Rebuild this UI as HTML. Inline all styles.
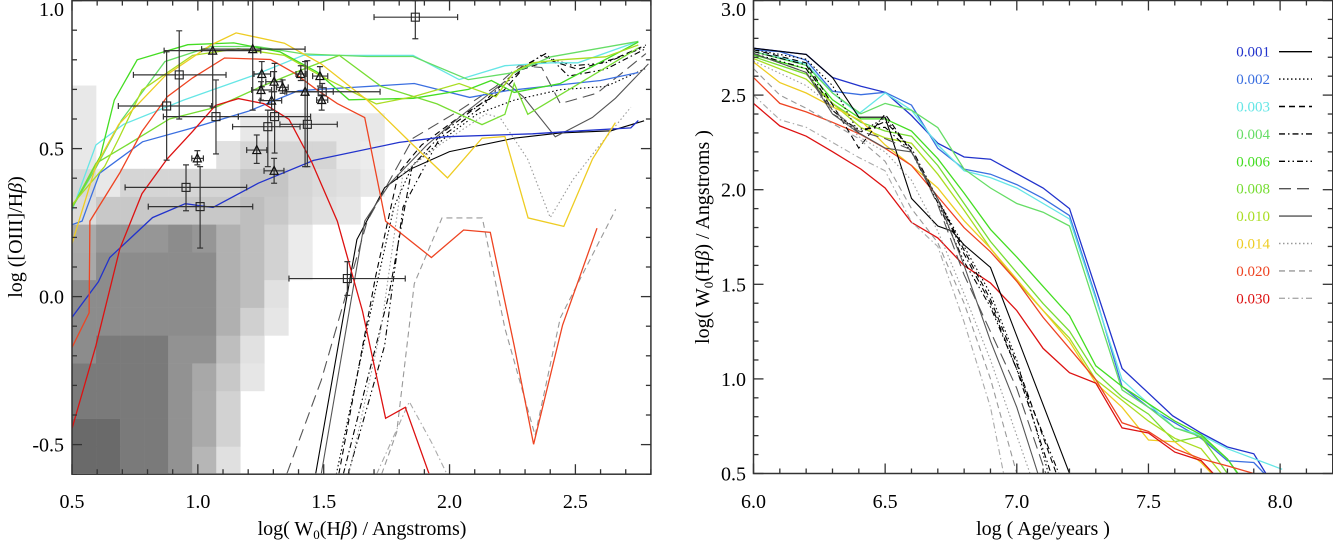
<!DOCTYPE html>
<html><head><meta charset="utf-8">
<style>
html,body{margin:0;padding:0;background:#fff;}
svg{display:block;font-family:"Liberation Serif",serif;}
</style></head>
<body>
<svg id="fig" width="1333" height="542" viewBox="0 0 1333 542" xmlns="http://www.w3.org/2000/svg">
<defs>
<clipPath id="clipL"><rect x="72" y="1" width="578.7" height="472.3"/></clipPath>
<clipPath id="clipR"><rect x="753.5" y="0.5" width="578.5" height="472.8"/></clipPath>
</defs>
<g id="left">
<g id="heat" clip-path="url(#clipL)"></g>
<g id="curvesL" clip-path="url(#clipL)"></g>
<g id="pointsL" clip-path="url(#clipL)"></g>
<g id="axesL"></g>
<text transform="translate(22,237) rotate(-90)" text-anchor="middle" font-size="20">log ([OIII]/H<tspan font-style="italic">β</tspan>)</text>
<text x="362" y="535" text-anchor="middle" font-size="20">log( W<tspan font-size="13" dy="4">0</tspan><tspan dy="-4">(H</tspan><tspan font-style="italic">β</tspan>) / Angstroms)</text>
</g>
<g id="right">
<g id="curvesR" clip-path="url(#clipR)"></g>
<g id="axesR"></g>
<g id="legend"></g>
<text transform="translate(709,237) rotate(-90)" text-anchor="middle" font-size="20">log( W<tspan font-size="13" dy="4">0</tspan><tspan dy="-4">(H</tspan><tspan font-style="italic">β</tspan>) / Angstroms )</text>
<text x="1043" y="535" text-anchor="middle" font-size="20">log ( Age/years )</text>
</g>
</svg>
<script>
// ---------- data ----------
const metallicities = ["0.001","0.002","0.003","0.004","0.006","0.008","0.010","0.014","0.020","0.030"];
const colors = ["#2233cc","#3b6fe0","#66e6e6","#66dd66","#44dd22","#77dd33","#aadd22","#eecc22","#ee4422","#dd1111"];
const kColors = ["#000","#000","#000","#000","#000","#555","#555","#999","#999","#aaa"];
const dashes = ["", "1.5,2.5", "6,4", "6,3,1.5,3", "6,3,1.5,3,1.5,3", "12,6", "", "1.5,2.5", "6,4", "6,3,1.5,3"];

// heatmap (rows from bottom, grey intensity per cell, 255 = empty)
const heatX0 = 0.5, heatDX = 0.0955, heatY0 = -0.6, heatDY = 0.0938;
const heatRows = [
[106,106,122,122,146,182,224,255,255,255,255,255,255],
[106,106,122,122,146,170,210,255,255,255,255,255,255],
[122,122,122,122,146,170,210,255,255,255,255,255,255],
[122,122,122,122,146,168,200,230,255,255,255,255,255],
[140,122,122,122,146,146,190,225,255,255,255,255,255],
[140,140,140,140,140,140,176,208,230,255,255,255,255],
[140,140,140,140,140,140,176,190,225,255,255,255,255],
[168,140,140,140,140,140,176,190,210,235,255,255,255],
[170,150,150,150,140,150,176,190,210,235,255,255,255],
[220,200,200,200,200,200,200,190,200,215,225,230,255],
[216,232,213,213,213,213,213,197,197,213,220,224,232],
[232,255,255,255,255,255,225,213,213,213,213,232,236],
[232,255,255,255,255,255,255,232,232,232,232,232,232],
[232,255,255,255,255,255,255,255,255,255,255,255,255]
];

// left panel coloured curves (index into metallicities)
const colCurvesLX = {
 0:[0.5,0.605,0.65,0.82,0.95,1.06,1.24,1.46,1.8,1.98,2.33,2.52,2.72,2.75],
 1:[0.5,0.54,0.56,0.61,0.78,0.98,1.2,1.4,1.64,1.86,2.08,2.23,2.41,2.6,2.75],
 2:[0.5,0.595,0.705,0.943,1.217,1.418,1.6,1.855,2.038,2.22,2.403,2.51,2.75],
 3:[0.5,0.595,0.696,0.869,1.052,1.235,1.418,1.673,1.855,2.074,2.257,2.403,2.75],
 4:[0.5,0.613,0.668,0.759,0.96,1.143,1.326,1.473,1.6,1.856,2.075,2.166,2.257,2.44,2.75],
 5:[0.5,0.595,0.714,0.887,1.071,1.253,1.436,1.562,1.728,1.95,2.129,2.22,2.257,2.311,2.75],
 6:[0.5,0.63,0.686,0.778,0.979,1.161,1.344,1.49,1.709,1.855,2.038,2.184,2.257,2.33,2.44,2.62,2.75],
 7:[0.5,0.595,0.686,0.869,1.052,1.152,1.344,1.49,1.673,1.855,1.992,2.129,2.22,2.312,2.454,2.568,2.659],
 8:[0.5,0.568,0.571,0.69,0.778,0.878,0.979,1.106,1.289,1.38,1.472,1.554,1.663,1.746,1.928,2.056,2.162,2.257,2.334,2.449,2.586],
 9:[0.5,0.595,0.69,0.778,0.878,0.979,1.07,1.161,1.262,1.362,1.453,1.554,1.654,1.746,1.824,1.919]
};
const colCurvesLY = {
 0:[-0.07,0.05,0.132,0.267,0.314,0.301,0.383,0.46,0.521,0.54,0.55,0.56,0.57,0.595],
 1:[0.243,0.255,0.302,0.417,0.523,0.57,0.626,0.696,0.708,0.72,0.673,0.696,0.713,0.73,0.757],
 2:[0.29,0.512,0.582,0.664,0.746,0.815,0.815,0.815,0.733,0.78,0.79,0.79,0.862],
 3:[0.3,0.435,0.595,0.794,0.845,0.845,0.82,0.811,0.811,0.733,0.757,0.81,0.862],
 4:[0.3,0.475,0.664,0.8,0.851,0.857,0.827,0.759,0.665,0.67,0.7,0.73,0.69,0.72,0.86],
 5:[0.3,0.45,0.51,0.6,0.64,0.71,0.774,0.815,0.71,0.651,0.581,0.616,0.72,0.616,0.84],
 6:[0.31,0.44,0.534,0.698,0.815,0.838,0.815,0.745,0.651,0.675,0.72,0.675,0.76,0.79,0.8,0.81,0.85],
 7:[0.179,0.442,0.582,0.745,0.85,0.891,0.856,0.786,0.664,0.512,0.401,0.535,0.541,0.266,0.237,0.465,0.588],
 8:[-0.172,-0.055,0.255,0.418,0.558,0.675,0.739,0.806,0.801,0.757,0.699,0.652,0.605,0.255,0.132,0.225,0.217,-0.166,-0.499,-0.096,0.231],
 9:[-0.446,-0.166,0.161,0.348,0.465,0.558,0.646,0.669,0.652,0.599,0.453,0.255,-0.049,-0.411,-0.374,-0.6]
};
// left panel black/grey curves
const kCurvesLX = [
 [1.468,1.632,1.742,1.843,2.0,2.257,2.44,2.641,2.773],
 [1.55,1.687,1.779,1.852,1.98,2.11,2.257,2.44,2.622,2.777],
 [1.56,1.706,1.797,1.889,2.035,2.217,2.29,2.4,2.51,2.657,2.78],
 [1.578,1.76,1.852,1.98,2.144,2.272,2.382,2.473,2.62,2.78],
 [1.597,1.742,1.815,1.961,2.126,2.254,2.363,2.491,2.62,2.78],
 [1.353,1.49,1.673,1.855,2.038,2.184,2.275,2.366,2.44,2.586,2.78],
 [1.49,1.663,1.764,1.91,2.038,2.22,2.293,2.42,2.567,2.659,2.79],
 [1.60,1.728,1.815,1.96,2.144,2.2,2.31,2.4,2.49,2.586,2.72],
 [1.73,1.79,1.86,1.97,2.13,2.22,2.34,2.44,2.66],
 [1.71,1.84,1.93,1.99]
];
const kCurvesLY = [
 [-0.6,0.193,0.368,0.43,0.49,0.535,0.553,0.56,0.594],
 [-0.6,-0.049,0.302,0.442,0.535,0.617,0.664,0.699,0.71,0.77],
 [-0.6,0.068,0.418,0.512,0.605,0.698,0.768,0.798,0.768,0.804,0.85],
 [-0.6,0.009,0.442,0.559,0.664,0.768,0.821,0.745,0.768,0.838],
 [-0.6,-0.166,0.302,0.535,0.64,0.745,0.815,0.78,0.79,0.845],
 [-0.6,-0.283,0.255,0.535,0.628,0.71,0.78,0.774,0.652,0.687,0.821],
 [-0.6,0.255,0.383,0.512,0.605,0.727,0.675,0.54,0.605,0.67,0.786],
 [-0.6,-0.107,0.418,0.512,0.617,0.605,0.465,0.267,0.395,0.5,0.64],
 [-0.6,-0.458,0.044,0.266,0.266,-0.107,-0.469,-0.072,0.295],
 [-0.6,-0.355,-0.495,-0.6]
];
// observed points: squares and triangles with error bars
const sqX = [0.926,0.876,1.072,1.305,1.278,1.435,1.494,0.953,1.009,1.594,1.864];
const sqY = [0.749,0.644,0.608,0.608,0.574,0.582,0.692,0.369,0.304,0.061,0.944];
const sqXlo = [0.744,0.684,0.863,1.161,1.138,1.326,1.353,0.711,0.803,1.362,1.70];
const sqXhi = [1.112,1.055,1.161,1.448,1.406,1.554,1.724,1.194,1.218,1.824,2.032];
const sqYlo = [0.60,0.461,0.482,0.485,0.439,0.439,0.653,0.29,0.164,0.004,0.871];
const sqYhi = [0.898,0.827,0.732,0.788,0.63,0.797,0.72,0.445,0.439,0.118,1.0];
const triX = [1.059,1.218,1.254,1.303,1.337,1.251,1.293,1.409,1.485,1.426,1.492,1.234,1.303,0.998];
const triY = [0.831,0.836,0.752,0.726,0.707,0.698,0.662,0.752,0.745,0.692,0.664,0.495,0.425,0.467];
const triXlo = [0.866,1.015,1.223,1.27,1.313,1.214,1.247,1.39,1.456,1.346,1.472,1.194,1.263,0.976];
const triXhi = [1.25,1.426,1.289,1.334,1.359,1.293,1.333,1.43,1.516,1.538,1.516,1.274,1.342,1.022];
const triYlo = [0.64,0.63,0.709,0.692,0.687,0.664,0.63,0.73,0.711,0.439,0.63,0.45,0.383,0.445];
const triYhi = [1.0,1.0,0.794,0.76,0.732,0.726,0.692,0.78,0.777,0.794,0.681,0.546,0.467,0.493];

// right panel curves
const colCurvesRX = {
 0:[6.0,6.2,6.3,6.408,6.5,6.6,6.7,6.8,6.9,7.1,7.2,7.4,7.592,7.7,7.8,7.9,7.946],
 1:[6.0,6.1,6.2,6.3,6.408,6.5,6.6,6.7,6.8,6.9,7.0,7.1,7.2,7.3,7.4,7.5,7.6,7.7,7.8,7.9,7.94],
 2:[6.0,6.2,6.3,6.4,6.5,6.6,6.7,6.8,6.9,7.0,7.2,7.4,7.6,7.7,7.8,8.008],
 3:[6.0,6.2,6.3,6.408,6.5,6.6,6.7,6.8,6.9,7.0,7.1,7.2,7.4,7.5,7.6,7.7,7.8,7.838],
 4:[6.0,6.2,6.3,6.408,6.5,6.6,6.7,6.8,6.9,7.0,7.1,7.2,7.3,7.4,7.5,7.6,7.7,7.8,7.84],
 5:[6.0,6.2,6.3,6.408,6.5,6.6,6.7,6.8,6.9,7.0,7.1,7.2,7.3,7.4,7.5,7.6,7.7,7.8],
 6:[6.0,6.2,6.3,6.408,6.5,6.6,6.7,6.8,6.9,7.0,7.1,7.2,7.3,7.4,7.5,7.6,7.7,7.777],
 7:[6.0,6.1,6.2,6.3,6.408,6.5,6.6,6.7,6.8,6.9,7.0,7.1,7.2,7.3,7.4,7.5,7.6,7.7,7.74],
 8:[6.0,6.1,6.2,6.3,6.408,6.5,6.6,6.7,6.8,6.9,7.0,7.1,7.2,7.3,7.4,7.5,7.6,7.7,7.8,7.9],
 9:[6.0,6.1,6.2,6.3,6.408,6.5,6.6,6.7,6.8,6.9,7.0,7.1,7.2,7.3,7.4,7.5,7.6,7.7,7.746]
};
const colCurvesRY = {
 0:[2.748,2.715,2.593,2.547,2.515,2.392,2.246,2.173,2.161,2.009,1.9,1.055,0.805,0.714,0.64,0.604,0.5],
 1:[2.739,2.73,2.684,2.52,2.502,2.515,2.447,2.219,2.109,2.082,2.027,1.954,1.863,1.434,0.96,0.85,0.768,0.686,0.567,0.558,0.5],
 2:[2.73,2.666,2.511,2.401,2.511,2.42,2.237,2.1,2.064,2.009,1.845,0.996,0.741,0.704,0.631,0.522],
 3:[2.73,2.657,2.511,2.401,2.456,2.42,2.328,2.109,2.009,1.927,1.881,1.808,0.942,0.85,0.741,0.695,0.577,0.5],
 4:[2.712,2.639,2.475,2.374,2.374,2.31,2.164,1.982,1.79,1.644,1.489,1.334,1.069,0.96,0.869,0.777,0.705,0.577,0.5],
 5:[2.703,2.611,2.456,2.356,2.31,2.283,2.128,1.927,1.726,1.562,1.398,1.252,1.033,0.905,0.814,0.668,0.695,0.5],
 6:[2.693,2.584,2.456,2.328,2.274,2.246,2.082,1.891,1.69,1.516,1.361,1.215,0.996,0.887,0.777,0.686,0.631,0.5],
 7:[2.675,2.566,2.511,2.438,2.365,2.237,2.128,2.009,1.836,1.69,1.526,1.361,1.197,0.978,0.85,0.677,0.668,0.558,0.5],
 8:[2.593,2.456,2.411,2.356,2.292,2.219,2.128,1.964,1.799,1.672,1.516,1.325,1.161,0.996,0.768,0.722,0.631,0.577,0.54,0.5],
 9:[2.456,2.337,2.283,2.201,2.109,2.009,1.827,1.745,1.599,1.507,1.361,1.161,1.033,0.978,0.741,0.714,0.613,0.568,0.5]
};
const kCurvesRX = [
 [6.0,6.2,6.3,6.4,6.5,6.6,6.7,6.754,6.8,6.9,7.2],
 [6.0,6.2,6.3,6.4,6.5,6.6,6.7,6.8,6.9,7.0,7.12],
 [6.0,6.2,6.3,6.4,6.5,6.6,6.7,6.8,6.9,7.0,7.15],
 [6.0,6.2,6.3,6.4,6.5,6.6,6.7,6.8,6.9,7.0,7.13],
 [6.0,6.2,6.3,6.4,6.5,6.6,6.7,6.8,6.9,7.0,7.16],
 [6.0,6.2,6.3,6.4,6.5,6.6,6.7,6.8,6.9,7.0,7.11],
 [6.0,6.2,6.3,6.4,6.5,6.6,6.7,6.8,6.9,7.0,7.08],
 [6.0,6.2,6.3,6.4,6.5,6.6,6.7,6.8,6.9,7.0,7.05],
 [6.0,6.1,6.2,6.3,6.4,6.5,6.6,6.7,6.8,6.9,7.0],
 [6.0,6.1,6.2,6.3,6.4,6.5,6.6,6.7,6.8,6.9,6.95]
];
const kCurvesRY = [
 [2.748,2.715,2.593,2.383,2.383,1.954,1.808,1.781,1.708,1.589,0.5],
 [2.74,2.69,2.55,2.3,2.38,2.2,1.95,1.7,1.45,1.1,0.5],
 [2.74,2.67,2.45,2.22,2.4,2.2,1.95,1.68,1.42,1.08,0.5],
 [2.73,2.66,2.42,2.3,2.36,2.22,1.95,1.66,1.4,1.05,0.5],
 [2.72,2.64,2.4,2.32,2.33,2.2,1.93,1.62,1.38,1.05,0.5],
 [2.72,2.62,2.42,2.31,2.27,2.21,1.92,1.55,1.25,0.95,0.5],
 [2.72,2.62,2.4,2.3,2.22,2.2,1.95,1.6,1.2,0.85,0.5],
 [2.68,2.55,2.44,2.28,2.2,2.05,1.78,1.45,1.1,0.7,0.5],
 [2.64,2.5,2.43,2.35,2.27,2.15,1.9,1.72,1.4,1.0,0.5],
 [2.5,2.37,2.33,2.25,2.17,2.1,1.83,1.7,1.3,0.85,0.5]
];
const leftXTicks = ["0.5","1.0","1.5","2.0","2.5"];
const leftYTicks = ["-0.5","0.0","0.5","1.0"];
const rightXTicks = ["6.0","6.5","7.0","7.5","8.0"];
const rightYTicks = ["0.5","1.0","1.5","2.0","2.5","3.0"];

// ---------- scales ----------
const NS = "http://www.w3.org/2000/svg";
const Lx = v => 72 + (v - 0.5) * 251.7;
const Ly = v => 0.6 + (1.0 - v) * 296;
const Rx = v => 753.5 + (v - 6.0) * 263.3;
const Ry = v => 0.5 + (3.0 - v) * 189.2;
function mk(tag, attrs, parent){ const e=document.createElementNS(NS,tag); for(const k in attrs) e.setAttribute(k,attrs[k]); parent.appendChild(e); return e; }
function pathD(xs, ys, sx, sy){ return xs.map((x,i)=>(i?"L":"M")+sx(x).toFixed(1)+","+sy(ys[i]).toFixed(1)).join(""); }

// heatmap
const heat = document.getElementById("heat");
heatRows.forEach((row, r) => row.forEach((g, c) => {
  if (g >= 255) return;
  const x0 = heatX0 + c*heatDX, y0 = heatY0 + r*heatDY;
  const e = mk("rect", {x:Lx(x0), y:Ly(y0+heatDY), width:Lx(x0+heatDX)-Lx(x0)+0.3, height:Ly(y0)-Ly(y0+heatDY)+0.3, fill:`rgb(${g},${g},${g})`}, heat);
  
  
}));

// left curves
const cL = document.getElementById("curvesL");
kCurvesLX.forEach((xs, i) => {
  const e = mk("path", {d:pathD(xs, kCurvesLY[i], Lx, Ly), fill:"none", stroke:kColors[i], "stroke-width":1.1, "stroke-dasharray":dashes[i]}, cL);
  
  
});
Object.keys(colCurvesLX).forEach(k => {
  const e = mk("path", {d:pathD(colCurvesLX[k], colCurvesLY[k], Lx, Ly), fill:"none", stroke:colors[k], "stroke-width":1.3}, cL);
  
  
});

// points
const pL = document.getElementById("pointsL");
function errbar(x, y, xlo, xhi, ylo, yhi, g){
  const st = {stroke:"#333","stroke-width":1.2};
  mk("line", Object.assign({x1:Lx(xlo),x2:Lx(xhi),y1:Ly(y),y2:Ly(y)},st), g);
  mk("line", Object.assign({x1:Lx(x),x2:Lx(x),y1:Ly(ylo),y2:Ly(yhi)},st), g);
  [xlo,xhi].forEach(v=>mk("line", Object.assign({x1:Lx(v),x2:Lx(v),y1:Ly(y)-3,y2:Ly(y)+3},st), g));
  [ylo,yhi].forEach(v=>mk("line", Object.assign({x1:Lx(x)-3,x2:Lx(x)+3,y1:Ly(v),y2:Ly(v)},st), g));
}
sqX.forEach((x,i)=>{
  const g = mk("g", {}, pL);
  
  
  errbar(x, sqY[i], sqXlo[i], sqXhi[i], sqYlo[i], sqYhi[i], g);
  mk("rect", {x:Lx(x)-4, y:Ly(sqY[i])-4, width:8, height:8, fill:"none", stroke:"#222", "stroke-width":1.1}, g);
});
triX.forEach((x,i)=>{
  const g = mk("g", {}, pL);
  
  
  errbar(x, triY[i], triXlo[i], triXhi[i], triYlo[i], triYhi[i], g);
  const px = Lx(x), py = Ly(triY[i]);
  mk("path", {d:`M${px-4},${py+3.5}L${px+4},${py+3.5}L${px},${py-4.5}Z`, fill:"none", stroke:"#111", "stroke-width":1.2}, g);
});

// right curves
const cR = document.getElementById("curvesR");
Object.keys(colCurvesRX).forEach(k => {
  const e = mk("path", {d:pathD(colCurvesRX[k], colCurvesRY[k], Rx, Ry), fill:"none", stroke:colors[k], "stroke-width":1.3}, cR);
  
  
});
kCurvesRX.forEach((xs, i) => {
  const e = mk("path", {d:pathD(xs, kCurvesRY[i], Rx, Ry), fill:"none", stroke:kColors[i], "stroke-width":1.1, "stroke-dasharray":dashes[i]}, cR);
  
  
});

// axes
function axes(gid, sx, sy, x0, x1, y0, y1, xt, yt, minorX, minorY, yLabelX){
  const g = document.getElementById(gid);
  const st = {stroke:"#333","stroke-width":1.3};
  mk("rect", {x:sx(x0), y:sy(y1), width:sx(x1)-sx(x0), height:sy(y0)-sy(y1), fill:"none", stroke:"#333", "stroke-width":1.5}, g);
  const nx = Math.round((x1-x0)/minorX);
  for(let i=0;i<=nx;i++){
    const v = x0 + i*minorX, px = sx(v);
    const major = Math.abs(v*2 - Math.round(v*2)) < 1e-6;
    const L = major ? 10 : 5;
    mk("line", Object.assign({x1:px,x2:px,y1:sy(y0),y2:sy(y0)-L},st), g);
    mk("line", Object.assign({x1:px,x2:px,y1:sy(y1),y2:sy(y1)+L},st), g);
  }
  const ny = Math.round((y1-y0)/minorY);
  for(let i=0;i<=ny;i++){
    const v = y0 + i*minorY, py = sy(v);
    const major = Math.abs(v*2 - Math.round(v*2)) < 1e-6;
    const L = major ? 10 : 5;
    mk("line", Object.assign({x1:sx(x0),x2:sx(x0)+L,y1:py,y2:py},st), g);
    mk("line", Object.assign({x1:sx(x1),x2:sx(x1)-L,y1:py,y2:py},st), g);
  }
  xt.forEach(t=>{
    const e = mk("text", {x:sx(parseFloat(t)), y:508, "text-anchor":"middle", "font-size":20}, g);
    e.textContent = t;
    
    
  });
  yt.forEach(t=>{
    const v = parseFloat(t);
    let py = sy(v) + 7;
    if (py < 16) py = 16;
    const e = mk("text", {x:yLabelX, y:py, "text-anchor":"end", "font-size":20}, g);
    e.textContent = t;
    
    
  });
}
axes("axesL", Lx, Ly, 0.5, 2.8, -0.6, 1.0, leftXTicks, leftYTicks, 0.1, 0.1, 64);
axes("axesR", Rx, Ry, 6.0, 8.2, 0.5, 3.0, rightXTicks, rightYTicks, 0.1, 0.1, 746);

// legend
const lg = document.getElementById("legend");
metallicities.forEach((m,i)=>{
  const y = 51.7 + i*27.4;
  const t = mk("text", {x:1270, y:y+5, "text-anchor":"end", "font-size":15, fill:colors[i]}, lg);
  t.textContent = m;
  
  
  const l = mk("line", {x1:1279, x2:1312, y1:y, y2:y, stroke:kColors[i], "stroke-width":1.4, "stroke-dasharray":dashes[i]}, lg);
  
  
});
</script>
</body></html>
